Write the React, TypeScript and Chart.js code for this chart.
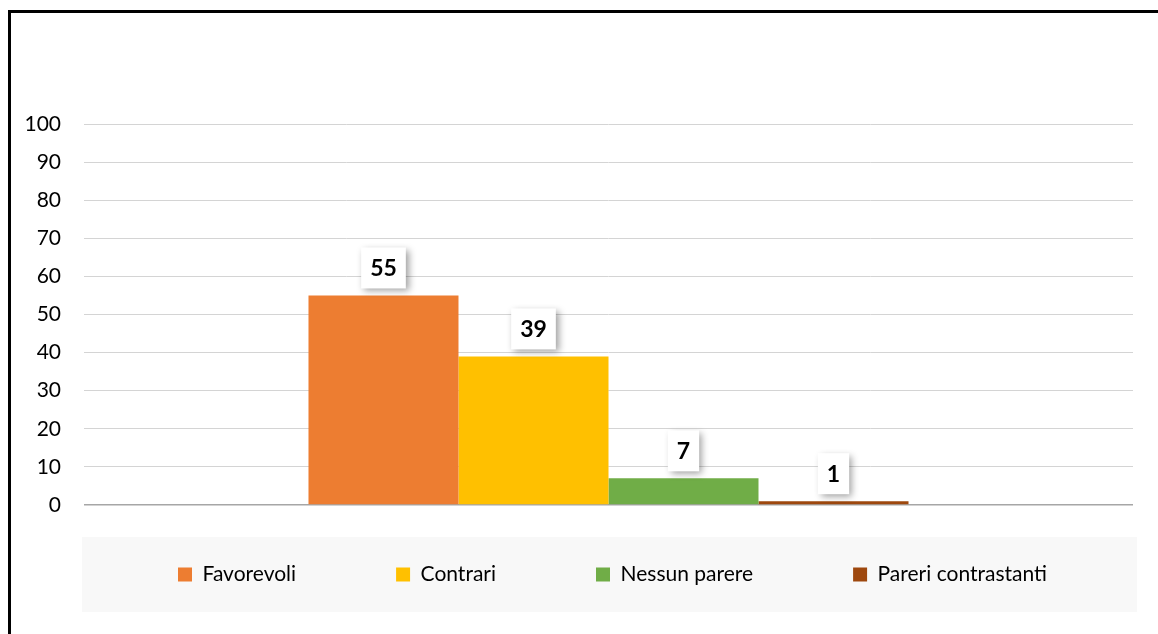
import React, { useEffect, useRef } from "react";
import { Chart, registerables } from "chart.js";

Chart.register(...registerables);

// ---- data ----
const categories = [""];
const seriesNames = ["Favorevoli", "Contrari", "Nessun parere", "Pareri contrastanti"];
const seriesValues = [55, 39, 7, 1];
const seriesColors = ["#ED7D31", "#FFC000", "#70AD47", "#9E480E"];
const yMin = 0;
const yMax = 100;
const yStep = 10;

const FONT = "Lato";
const LEGEND_FONT_SIZE = 21;
const LEGEND_PADDING = 100;
const LEGEND_BOX = 14;

const legendPanel = {
  id: "legendPanel",
  afterLayout(chart: any) {
    const lg = chart.legend;
    const ca = chart.chartArea;
    const panel = {
      left: ca.left - 2,
      right: ca.right + 4,
      top: ca.bottom + 32,
      bottom: lg.bottom,
    };
    chart.$panel = panel;
    const itemH = Math.max(LEGEND_FONT_SIZE, LEGEND_BOX);
    const mid = (panel.top + panel.bottom) / 2;
    lg.top = mid - LEGEND_PADDING - itemH / 2;
    lg.bottom = panel.bottom;
    lg.height = lg.bottom - lg.top;
    lg.left = ca.left + 4 - LEGEND_PADDING;
    lg.right = ca.right + 4 + LEGEND_PADDING;
    lg.width = lg.right - lg.left;
  },
  beforeDraw(chart: any) {
    const p = chart.$panel;
    if (!p) return;
    const ctx = chart.ctx;
    ctx.save();
    ctx.fillStyle = "#f8f8f8";
    ctx.fillRect(p.left, p.top, p.right - p.left, p.bottom - p.top);
    ctx.restore();
  },
};

const valueBoxes = {
  id: "valueBoxes",
  afterDatasetsDraw(chart: any) {
    const ctx = chart.ctx;
    ctx.save();
    ctx.font = `bold 23px ${FONT}`;
    chart.data.datasets.forEach((ds: any, i: number) => {
      const meta = chart.getDatasetMeta(i);
      meta.data.forEach((bar: any, j: number) => {
        const text = String(ds.data[j]);
        const tw = ctx.measureText(text).width;
        const w = Math.max(tw + 18, 30);
        const h = 41;
        const x = bar.x - w / 2;
        const y = bar.y - 7 - h;
        ctx.shadowColor = "rgba(0,0,0,0.38)";
        ctx.shadowBlur = 7;
        ctx.shadowOffsetX = 3;
        ctx.shadowOffsetY = 3;
        ctx.fillStyle = "#ffffff";
        ctx.fillRect(x, y, w, h);
        ctx.shadowColor = "transparent";
        ctx.shadowBlur = 0;
        ctx.shadowOffsetX = 0;
        ctx.shadowOffsetY = 0;
        ctx.fillStyle = "#000000";
        ctx.textAlign = "center";
        ctx.textBaseline = "middle";
        ctx.fillText(text, bar.x, y + h / 2 + 1);
      });
    });
    ctx.restore();
  },
};

export default function App() {
  const canvasRef = useRef<HTMLCanvasElement | null>(null);

  useEffect(() => {
    const canvas = canvasRef.current;
    if (!canvas) return;
    const chart = new Chart(canvas, {
      type: "bar",
      data: {
        labels: categories,
        datasets: seriesNames.map((name, i) => ({
          label: name,
          data: [seriesValues[i]],
          backgroundColor: seriesColors[i],
          borderWidth: 0,
          categoryPercentage: 0.572,
          barPercentage: 1,
        })),
      },
      options: {
        responsive: false,
        animation: false,
        devicePixelRatio: 1,
        layout: { padding: { top: 124, bottom: 22, left: 0, right: 25 } },
        scales: {
          x: { display: false },
          y: {
            min: yMin,
            max: yMax,
            ticks: {
              stepSize: yStep,
              padding: 23,
              color: "#000000",
              font: { family: FONT, size: 21 },
            },
            grid: {
              drawTicks: false,
              color: (c: any) => (c.tick && c.tick.value === 0 ? "#a6a6a6" : "#d4d4d4"),
              lineWidth: (c: any) => (c.tick && c.tick.value === 0 ? 1.5 : 1),
            },
            border: { display: false },
            afterFit(scale: any) {
              scale.width = 84;
            },
          },
        },
        plugins: {
          legend: {
            position: "bottom",
            maxHeight: 107,
            labels: {
              boxWidth: LEGEND_BOX,
              boxHeight: LEGEND_BOX,
              padding: LEGEND_PADDING,
              color: "#000000",
              font: { family: FONT, size: LEGEND_FONT_SIZE },
            },
          },
          tooltip: { enabled: false },
        },
      },
      plugins: [legendPanel, valueBoxes],
    } as any);
    return () => chart.destroy();
  }, []);

  return (
    <>
      <div
        style={{
          position: "absolute",
          left: 8,
          top: 10,
          width: 1150,
          height: 624,
          boxSizing: "border-box",
          borderTop: "3px solid #000",
          borderLeft: "3px solid #000",
        }}
      />
      <canvas
        ref={canvasRef}
        width={1158}
        height={634}
        style={{ position: "absolute", left: 0, top: 0, width: 1158, height: 634, display: "block" }}
      />
    </>
  );
}
